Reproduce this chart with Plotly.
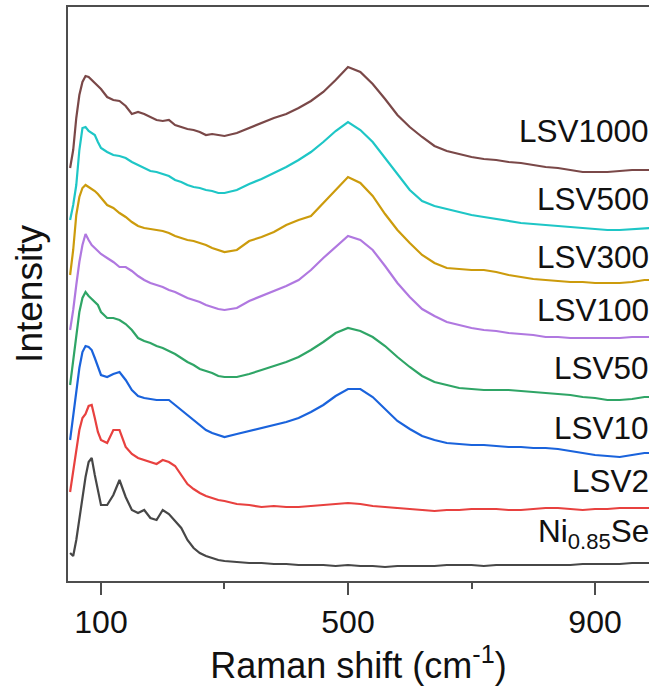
import plotly.graph_objects as go

# Raman shift grid (cm^-1)
wavenumber = [50, 55, 60, 65, 70, 75, 80, 85, 90, 95, 100,
              110, 120, 130, 140, 150, 160, 170, 180, 190, 200,
              210, 220, 230, 240, 250, 260, 270, 280, 290, 300,
              320, 340, 360, 380, 400, 420, 440, 460, 480, 500,
              520, 540, 560, 580, 600, 620, 640, 660, 680, 700,
              720, 740, 760, 780, 800, 820, 840, 860, 880, 900,
              920, 940, 960, 980, 990]

# Stacked intensities (a.u.), bottom to top
ni085se = [47, 44, 60, 82, 100, 123, 138, 142, 125, 108, 95,
           95, 105, 120, 103, 90, 87, 90, 82, 80, 90,
           86, 79, 72, 60, 52, 47, 44, 42, 40, 39,
           38, 37, 37, 36, 36, 35, 35, 35, 34, 35,
           34, 34, 33, 34, 34, 34, 34, 35, 35, 35,
           34, 35, 35, 35, 35, 35, 35, 35, 36, 36,
           36, 36, 37, 37, 37]
lsv2 = [108, 130, 152, 170, 182, 186, 194, 195, 182, 168, 160,
        157, 170, 170, 153, 146, 142, 140, 138, 136, 140,
        138, 134, 125, 116, 111, 107, 104, 102, 100, 99,
        96, 95, 93, 94, 93, 93, 94, 95, 96, 97,
        96, 94, 93, 92, 91, 90, 89, 90, 90, 91,
        91, 91, 90, 90, 91, 92, 92, 91, 90, 91,
        91, 92, 92, 92, 92]
lsv10 = [160, 183, 210, 232, 248, 254, 253, 250, 242, 234, 225,
         223, 226, 228, 220, 210, 204, 202, 201, 200, 200,
         200, 195, 190, 185, 180, 175, 170, 167, 165, 163,
         166, 169, 172, 175, 178, 182, 188, 195, 204, 211,
         211, 203, 191, 179, 171, 164, 160, 157, 156, 155,
         155, 154, 153, 153, 152, 152, 151, 149, 147, 145,
         144, 143, 145, 147, 147]
lsv50 = [215, 238, 265, 288, 302, 308, 304, 301, 299, 295, 288,
         282, 282, 280, 276, 270, 262, 259, 257, 254, 252,
         249, 246, 242, 238, 235, 231, 229, 227, 224, 223,
         223, 226, 230, 234, 238, 243, 250, 258, 267, 272,
         269, 263, 254, 243, 233, 224, 218, 215, 212, 211,
         210, 210, 210, 209, 208, 207, 206, 205, 203, 202,
         200, 200, 201, 203, 203]
lsv100 = [270, 290, 315, 338, 355, 366, 360, 355, 352, 349, 346,
          342, 338, 333, 333, 329, 324, 320, 317, 315, 313,
          310, 308, 305, 302, 300, 298, 295, 293, 291, 290,
          292, 299, 304, 309, 314, 320, 330, 342, 353, 364,
          360, 350, 334, 317, 303, 291, 284, 278, 275, 272,
          270, 269, 267, 266, 265, 263, 263, 262, 262, 262,
          262, 262, 263, 263, 263]
lsv300 = [325, 350, 385, 403, 412, 415, 413, 411, 409, 406, 402,
          395, 392, 387, 383, 378, 374, 372, 371, 370, 369,
          367, 364, 362, 360, 359, 357, 355, 352, 350, 348,
          350, 359, 363, 368, 375, 380, 384, 397, 411, 423,
          417, 404, 386, 370, 357, 345, 337, 332, 331, 330,
          330, 328, 325, 323, 321, 320, 319, 318, 318, 317,
          317, 317, 318, 320, 320]
lsv500 = [380, 395, 415, 450, 472, 473, 469, 467, 465, 458, 452,
          448, 445, 444, 442, 438, 435, 432, 429, 428, 426,
          424, 420, 418, 415, 413, 412, 410, 409, 407, 407,
          410, 416, 421, 427, 433, 440, 448, 458, 469, 478,
          470, 458, 442, 426, 410, 399, 394, 391, 388, 385,
          383, 381, 379, 377, 376, 375, 374, 373, 372, 371,
          370, 370, 371, 372, 372]
lsv1000 = [432, 450, 482, 505, 518, 524, 523, 520, 517, 514, 511,
           503, 500, 499, 494, 486, 488, 486, 483, 480, 479,
           480, 475, 473, 471, 470, 468, 465, 466, 465, 464,
           467, 472, 477, 482, 486, 492, 499, 508, 520, 533,
           528, 516, 501, 485, 473, 463, 454, 449, 446, 443,
           441, 440, 438, 437, 435, 433, 432, 430, 428, 428,
           428, 429, 430, 430, 430]

sample_names = ["Ni<sub>0.85</sub>Se", "LSV2", "LSV10", "LSV50",
                "LSV100", "LSV300", "LSV500", "LSV1000"]
spectra = [ni085se, lsv2, lsv10, lsv50, lsv100, lsv300, lsv500, lsv1000]
colors = ["#474747", "#e8413f", "#1a63dc", "#2fa566",
          "#b078e0", "#cc9b0c", "#1ec6c6", "#7a4848"]
# vertical position of each sample label (a.u.)
label_y = [67, 119, 172, 232, 290, 343, 401, 469]

FONT = "Liberation Sans, Arial, sans-serif"
AXIS_COLOR = "#4d4d4d"

fig = go.Figure()
for name, ys, col in zip(sample_names, spectra, colors):
    fig.add_trace(go.Scatter(x=wavenumber, y=ys, mode="lines", name=name,
                             line=dict(color=col, width=2.2),
                             showlegend=False))

for name, ly in zip(sample_names, label_y):
    fig.add_annotation(x=1.004, xref="paper", y=ly, yref="y",
                       text=name, showarrow=False,
                       xanchor="right", yanchor="middle",
                       font=dict(family=FONT, size=31.5, color="#111111"))

fig.update_layout(
    width=649, height=686,
    margin=dict(l=68, r=0, t=7, b=105),
    paper_bgcolor="white", plot_bgcolor="white",
    font=dict(family=FONT, color="#111111"),
)
fig.update_xaxes(
    range=[46.6, 987.4],
    tickvals=[100, 500, 900],
    ticks="outside", ticklen=12, tickwidth=1.5, tickcolor=AXIS_COLOR,
    minor=dict(tickvals=[300, 700], ticks="outside", ticklen=6,
               tickwidth=1.5, tickcolor=AXIS_COLOR),
    tickfont=dict(family=FONT, size=32, color="#111111"),
    showline=True, linecolor=AXIS_COLOR, linewidth=1.5, mirror=True,
    showgrid=False, zeroline=False,
    title=dict(text="Raman shift (cm<sup>-1</sup>)", standoff=2,
               font=dict(family=FONT, size=36, color="#111111")),
)
fig.update_yaxes(
    range=[19, 593],
    showticklabels=False, ticks="",
    showline=True, linecolor=AXIS_COLOR, linewidth=1.5,
    showgrid=False, zeroline=False,
    title=dict(text="Intensity", standoff=12,
               font=dict(family=FONT, size=37, color="#111111")),
)

fig.write_html("out.html")
